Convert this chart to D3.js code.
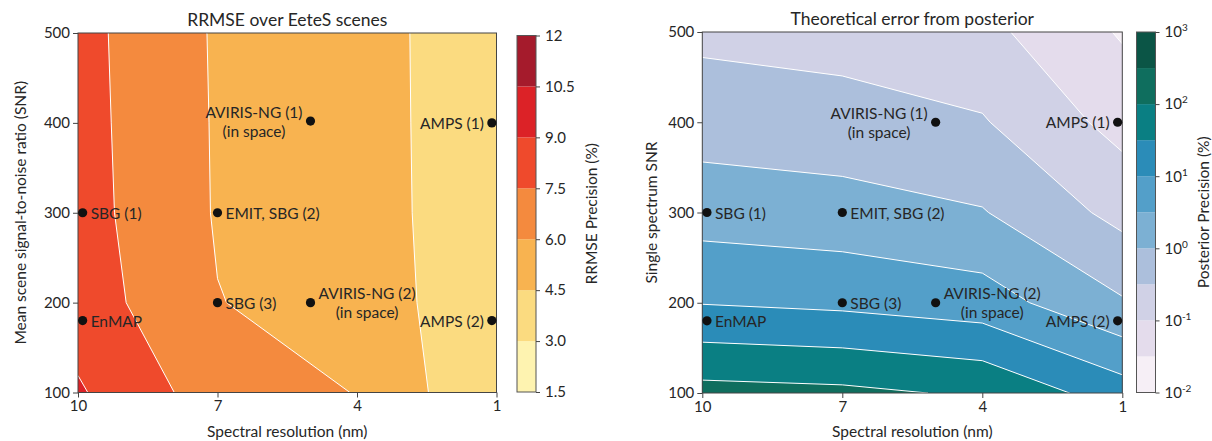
<!DOCTYPE html>
<html lang="en">
<head>
<meta charset="UTF-8">
<title>RRMSE and posterior error</title>
<script src="https://cdn.jsdelivr.net/npm/d3@7"></script>
<style>
    body { margin: 0; background: #fff; }
    text { font-family: Lato, "Open Sans", sans-serif; fill: #262626; }
</style>
</head>
<body>
<svg id="chart" width="1212" height="441"></svg>
<script>
// grid of the model runs: columns = spectral resolution (nm), rows = SNR
const resolutions = [10, 7, 4, 1];
const snrLevels = [100, 200, 300, 400, 500];

// RRMSE precision (%) over EeteS scenes, one row per SNR level
const rrmse = [
    [9.17, 6.75, 5.96, 3.11],
    [8.27, 6.04, 5.42, 3.28],
    [8.07, 5.89, 5.22, 3.40],
    [8.01, 5.87, 5.16, 3.45],
    [7.96, 5.84, 5.11, 3.50]
];
const rrmseLevels = [1.5, 3, 4.5, 6, 7.5, 9, 10.5, 12];
const rrmseTickLabels = ['1.5', '3.0', '4.5', '6.0', '7.5', '9.0', '10.5', '12'];

// theoretical posterior precision, log10 of percent
const posteriorLog10 = [
    [2.17, 2.11, 1.93, 1.24],
    [0.98, 0.89, 0.73, 0.05],
    [0.28, 0.20, 0.03, -0.65],
    [-0.22, -0.30, -0.46, -1.17],
    [-0.61, -0.69, -0.86, -1.55]
];
const posteriorLevels = [-2, -1.5, -1, -0.5, 0, 0.5, 1, 1.5, 2, 2.5, 3];
const posteriorTicks = [-2, -1, 0, 1, 2, 3];

// instruments
const siteNames = ['SBG (1)', 'EnMAP', 'EMIT, SBG (2)', 'SBG (3)', 'AVIRIS-NG (1)', 'AVIRIS-NG (2)', 'AMPS (1)', 'AMPS (2)'];
const siteNotes = ['', '', '', '', '(in space)', '(in space)', '', ''];
const siteRes = [9.9, 9.9, 7, 7, 5, 5, 1.1, 1.1];
const siteSnrMean = [300, 180, 300, 200, 402, 200, 400, 180];
const siteSnrSingle = [300, 180, 300, 200, 400, 200, 400, 180];

const rrmseColors = ['#fef3b0', '#fbdb80', '#f8b350', '#f48a3e', '#ef4a2c', '#dc2227', '#a51b2c'];
const posteriorColors = ['#f6eff6', '#e4dcec', '#d0d1e6', '#acbfdc', '#7cb0d3', '#539fc9', '#2b8cb8', '#0a7f83', '#0f6e5e', '#0b5546'];

const svg = d3.select('#chart');
const FS = 15.5;

function drawPanel(cfg) {
    const g = svg.append('g');
    const x = d3.scaleLinear().domain([10, 1]).range([cfg.x0, cfg.x1]);
    const y = d3.scaleLinear().domain([100, 500]).range([cfg.y1, cfg.y0]);

    // grid cell centres (d3.contours puts sample i at i + 0.5)
    const n = resolutions.length, m = snrLevels.length;
    const gx = d3.scaleLinear().domain(d3.range(n).map(i => i + 0.5)).range(resolutions.map(x));
    const gy = d3.scaleLinear().domain(d3.range(m).map(i => i + 0.5)).range(snrLevels.map(y));
    const path = d3.geoPath(d3.geoTransform({
        point(px, py) { this.stream.point(gx(px), gy(py)); }
    }));

    const contours = d3.contours()
        .size([n, m])
        .thresholds(cfg.levels.slice(0, -1))(cfg.grid.flat());

    const clipId = 'clip-' + cfg.id;
    g.append('clipPath').attr('id', clipId)
        .append('rect')
        .attr('x', cfg.x0).attr('y', cfg.y0)
        .attr('width', cfg.x1 - cfg.x0).attr('height', cfg.y1 - cfg.y0);

    const area = g.append('g').attr('clip-path', `url(#${clipId})`);
    area.selectAll('path.band')
        .data(contours)
        .join('path')
        .attr('class', 'band')
        .attr('d', d => path(d))
        .attr('fill', (d, i) => cfg.colors[i]);
    area.selectAll('path.iso')
        .data(contours.slice(1))
        .join('path')
        .attr('class', 'iso')
        .attr('d', d => path(d))
        .attr('fill', 'none')
        .attr('stroke', '#fff')
        .attr('stroke-width', 1);

    // frame
    g.append('rect')
        .attr('x', cfg.x0).attr('y', cfg.y0)
        .attr('width', cfg.x1 - cfg.x0).attr('height', cfg.y1 - cfg.y0)
        .attr('fill', 'none').attr('stroke', '#444').attr('stroke-width', 1);

    // axes
    const xa = g.append('g').attr('transform', `translate(0,${cfg.y1})`)
        .call(d3.axisBottom(x).tickValues(resolutions).tickSize(5).tickSizeOuter(0).tickPadding(3));
    const ya = g.append('g').attr('transform', `translate(${cfg.x0},0)`)
        .call(d3.axisLeft(y).tickValues(snrLevels).tickSize(5).tickSizeOuter(0).tickPadding(3));
    [xa, ya].forEach(a => {
        a.select('.domain').remove();
        a.selectAll('line').attr('stroke', '#444');
        a.selectAll('text').attr('font-size', 15).attr('font-family', null).style('fill', '#262626');
    });

    const cx = (cfg.x0 + cfg.x1) / 2, cy = (cfg.y0 + cfg.y1) / 2;
    g.append('text').attr('x', cx).attr('y', cfg.y0 - 7)
        .attr('text-anchor', 'middle').attr('font-size', 17.5).text(cfg.title);
    g.append('text').attr('x', cx).attr('y', cfg.y1 + 44)
        .attr('text-anchor', 'middle').attr('font-size', FS).text('Spectral resolution (nm)');
    g.append('text')
        .attr('transform', `translate(${cfg.ylabelX},${cy}) rotate(-90)`)
        .attr('text-anchor', 'middle').attr('dominant-baseline', 'central')
        .attr('font-size', FS).text(cfg.ylabel);

    // instruments
    siteNames.forEach((name, i) => {
        const px = x(siteRes[i]), py = y(cfg.snr[i]);
        g.append('circle').attr('cx', px).attr('cy', py).attr('r', 4.6).attr('fill', '#111');
        const onLeft = name.startsWith('AMPS') || name === 'AVIRIS-NG (1)';
        const lines = siteNotes[i] ? [name, siteNotes[i]] : [name];
        const t = g.append('g');
        const texts = lines.map((s, k) => t.append('text')
            .attr('font-size', FS)
            .attr('dominant-baseline', 'central')
            .attr('y', py + (k - (lines.length - 1) / 2) * 19)
            .text(s));
        const widths = texts.map(tx => tx.node().getComputedTextLength());
        const w = d3.max(widths);
        const left = onLeft ? px - 8 - w : px + 8;
        texts.forEach((tx, k) => tx.attr('x', left + (w - widths[k]) / 2));
    });

    // colour bar
    const cb = cfg.cbar;
    const cyS = d3.scaleLinear().domain([cfg.levels[0], cfg.levels[cfg.levels.length - 1]]).range([cb.y1, cb.y0]);
    const bar = g.append('g');
    bar.selectAll('rect.step')
        .data(cfg.colors)
        .join('rect')
        .attr('class', 'step')
        .attr('x', cb.x0).attr('width', cb.x1 - cb.x0)
        .attr('y', (d, i) => cyS(cfg.levels[i + 1]))
        .attr('height', (d, i) => cyS(cfg.levels[i]) - cyS(cfg.levels[i + 1]))
        .attr('fill', d => d);
    bar.append('rect')
        .attr('x', cb.x0).attr('y', cb.y0)
        .attr('width', cb.x1 - cb.x0).attr('height', cb.y1 - cb.y0)
        .attr('fill', 'none').attr('stroke', '#555').attr('stroke-width', 1);
    const ca = bar.append('g').attr('transform', `translate(${cb.x1},0)`)
        .call(d3.axisRight(cyS).tickValues(cfg.cbarTicks).tickSize(4).tickSizeOuter(0).tickPadding(5).tickFormat(cfg.cbarFormat));
    ca.select('.domain').remove();
    ca.selectAll('line').attr('stroke', '#444');
    ca.selectAll('text').attr('font-size', 15).attr('font-family', null).style('fill', '#262626');
    if (cfg.cbarPower) {
        ca.selectAll('.tick text').each(function (d) {
            const el = d3.select(this).text('');
            el.append('tspan').text('10');
            el.append('tspan').attr('dy', -6).attr('font-size', 10).text(d);
        });
    }
    g.append('text')
        .attr('transform', `translate(${cb.labelX},${(cb.y0 + cb.y1) / 2}) rotate(-90)`)
        .attr('text-anchor', 'middle').attr('dominant-baseline', 'central')
        .attr('font-size', FS).text(cb.label);
}

drawPanel({
    id: 'rrmse',
    x0: 78, x1: 496.5, y0: 33, y1: 392.5,
    grid: rrmse, levels: rrmseLevels, colors: rrmseColors,
    title: 'RRMSE over EeteS scenes',
    ylabel: 'Mean scene signal-to-noise ratio (SNR)', ylabelX: 20,
    snr: siteSnrMean,
    cbar: { x0: 517, x1: 536, y0: 35.5, y1: 392, labelX: 591, label: 'RRMSE Precision (%)' },
    cbarTicks: rrmseLevels,
    cbarFormat: (d, i) => rrmseTickLabels[i]
});

drawPanel({
    id: 'posterior',
    x0: 702.3, x1: 1122.3, y0: 32, y1: 393,
    grid: posteriorLog10, levels: posteriorLevels, colors: posteriorColors,
    title: 'Theoretical error from posterior',
    ylabel: 'Single spectrum SNR', ylabelX: 651,
    snr: siteSnrSingle,
    cbar: { x0: 1136.5, x1: 1155.5, y0: 32, y1: 392.5, labelX: 1203, label: 'Posterior Precision (%)' },
    cbarTicks: posteriorTicks,
    cbarFormat: d => d,
    cbarPower: true
});
</script>
</body>
</html>
